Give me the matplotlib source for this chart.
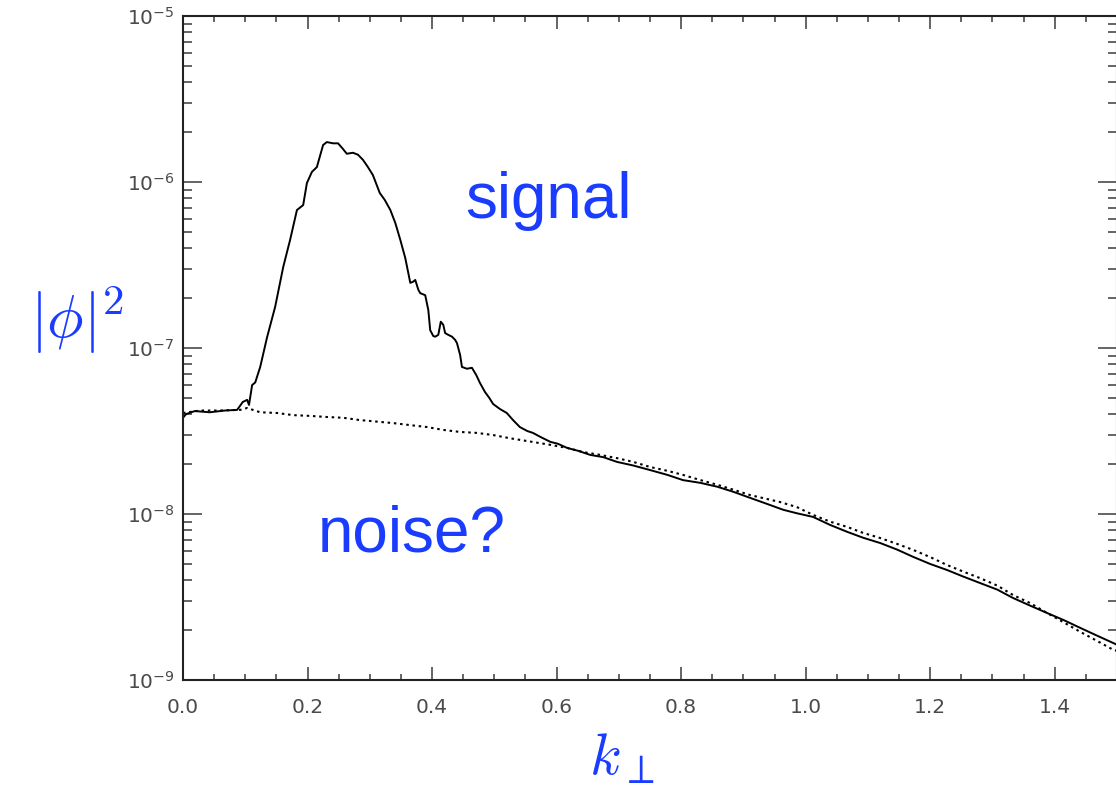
import math
import matplotlib
matplotlib.use("Agg")
import matplotlib.pyplot as plt
from matplotlib.ticker import FixedLocator, MultipleLocator, LogLocator, FuncFormatter, NullFormatter

# values
k_signal = [0.000, 0.005, 0.019, 0.043, 0.067, 0.087, 0.096, 0.103, 0.106, 0.111,
            0.116, 0.124, 0.135, 0.148, 0.161, 0.172, 0.183, 0.193, 0.199, 0.207,
            0.215, 0.225, 0.231, 0.241, 0.249, 0.257, 0.263, 0.273, 0.281, 0.289,
            0.297, 0.305, 0.316, 0.324, 0.333, 0.341, 0.349, 0.357, 0.365, 0.369,
            0.373, 0.378, 0.381, 0.389, 0.394, 0.397, 0.402, 0.405, 0.410, 0.414,
            0.418, 0.421, 0.426, 0.432, 0.437, 0.440, 0.445, 0.448, 0.456, 0.464,
            0.471, 0.477, 0.485, 0.492, 0.498, 0.509, 0.520, 0.530, 0.541, 0.553,
            0.562, 0.575, 0.590, 0.602, 0.617, 0.635, 0.654, 0.675, 0.697, 0.723,
            0.750, 0.778, 0.803, 0.831, 0.858, 0.884, 0.911, 0.938, 0.964, 0.986,
            1.012, 1.039, 1.067, 1.092, 1.120, 1.147, 1.173, 1.200, 1.227, 1.253,
            1.280, 1.308, 1.333, 1.361, 1.388, 1.414, 1.441, 1.468, 1.494, 1.505]
phi_signal = [3.8e-8, 4.0e-8, 4.17e-8, 4.1e-8, 4.2e-8, 4.24e-8, 4.73e-8, 4.87e-8, 4.54e-8, 5.98e-8,
              6.2e-8, 7.69e-8, 1.16e-7, 1.77e-7, 3.08e-7, 4.48e-7, 6.78e-7, 7.26e-7, 9.86e-7, 1.15e-6,
              1.23e-6, 1.67e-6, 1.74e-6, 1.71e-6, 1.71e-6, 1.58e-6, 1.48e-6, 1.50e-6, 1.46e-6, 1.36e-6,
              1.23e-6, 1.10e-6, 8.59e-7, 7.80e-7, 6.78e-7, 5.66e-7, 4.48e-7, 3.48e-7, 2.47e-7, 2.5e-7,
              2.57e-7, 2.24e-7, 2.14e-7, 2.08e-7, 1.69e-7, 1.28e-7, 1.18e-7, 1.17e-7, 1.2e-7, 1.44e-7,
              1.38e-7, 1.23e-7, 1.20e-7, 1.17e-7, 1.12e-7, 1.07e-7, 9.1e-8, 7.69e-8, 7.5e-8, 7.6e-8,
              6.87e-8, 6.15e-8, 5.43e-8, 5.0e-8, 4.60e-8, 4.29e-8, 4.06e-8, 3.68e-8, 3.34e-8, 3.16e-8,
              3.08e-8, 2.9e-8, 2.72e-8, 2.65e-8, 2.50e-8, 2.4e-8, 2.27e-8, 2.2e-8, 2.06e-8, 1.96e-8,
              1.84e-8, 1.72e-8, 1.60e-8, 1.54e-8, 1.46e-8, 1.36e-8, 1.25e-8, 1.15e-8, 1.06e-8, 1.01e-8,
              9.6e-9, 8.6e-9, 7.8e-9, 7.2e-9, 6.68e-9, 6.1e-9, 5.51e-9, 5.0e-9, 4.60e-9, 4.2e-9,
              3.84e-9, 3.5e-9, 3.12e-9, 2.8e-9, 2.53e-9, 2.3e-9, 2.06e-9, 1.85e-9, 1.67e-9, 1.6e-9]

k_noise = [0.000, 0.027, 0.059, 0.092, 0.103, 0.124, 0.151, 0.177, 0.204, 0.231,
           0.257, 0.284, 0.312, 0.337, 0.365, 0.392, 0.418, 0.445, 0.472, 0.498,
           0.525, 0.553, 0.590, 0.617, 0.643, 0.670, 0.697, 0.723, 0.750, 0.778,
           0.803, 0.831, 0.858, 0.884, 0.911, 0.959, 0.986, 1.012, 1.039, 1.067,
           1.092, 1.120, 1.147, 1.173, 1.200, 1.227, 1.253, 1.280, 1.308, 1.333,
           1.361, 1.388, 1.414, 1.441, 1.468, 1.494, 1.505]
phi_noise = [4.06e-8, 4.2e-8, 4.2e-8, 4.24e-8, 4.35e-8, 4.1e-8, 4.06e-8, 3.94e-8, 3.9e-8, 3.84e-8,
             3.8e-8, 3.68e-8, 3.6e-8, 3.53e-8, 3.43e-8, 3.34e-8, 3.21e-8, 3.12e-8, 3.08e-8, 2.99e-8,
             2.86e-8, 2.75e-8, 2.61e-8, 2.50e-8, 2.36e-8, 2.27e-8, 2.17e-8, 2.06e-8, 1.92e-8, 1.82e-8,
             1.72e-8, 1.60e-8, 1.50e-8, 1.40e-8, 1.30e-8, 1.18e-8, 1.10e-8, 9.87e-9, 9.0e-9, 8.35e-9,
             7.7e-9, 7.16e-9, 6.6e-9, 6.07e-9, 5.5e-9, 4.93e-9, 4.5e-9, 4.11e-9, 3.7e-9, 3.25e-9,
             2.9e-9, 2.53e-9, 2.23e-9, 1.95e-9, 1.72e-9, 1.52e-9, 1.48e-9]

x_ticks = [0.0, 0.2, 0.4, 0.6, 0.8, 1.0, 1.2, 1.4]
blue = "#1a3cff"
grey = "#4a4a4a"

fig = plt.figure(figsize=(11.16, 7.91), dpi=100)
ax = fig.add_axes([183 / 1116, 1 - 680 / 791, 934 / 1116, 664 / 791])

ax.plot(k_signal, phi_signal, color="black", lw=1.4)
ax.plot(k_noise, phi_noise, color="black", lw=1.5, linestyle=(0, (1.2, 1.8)))

ax.set_yscale("log")
ax.set_xlim(0, 1.5)
ax.set_ylim(1e-9, 1e-5)

ax.xaxis.set_major_locator(FixedLocator(x_ticks))
ax.xaxis.set_minor_locator(MultipleLocator(0.05))
ax.set_xticklabels([f"{v:.1f}" for v in x_ticks])
ax.yaxis.set_major_locator(LogLocator(base=10))
ax.yaxis.set_minor_locator(LogLocator(base=10, subs=range(2, 10)))
ax.yaxis.set_minor_formatter(NullFormatter())
ax.yaxis.set_major_formatter(FuncFormatter(lambda v, p: f"10$^{{{int(round(math.log10(v)))}}}$"))

ax.tick_params(which="both", direction="in", top=True, right=True, colors=grey, labelcolor=grey,
               labelsize=14.5, width=1.2)
ax.tick_params(axis="x", which="major", length=9.5, pad=13)
ax.tick_params(axis="x", which="minor", length=4.5)
ax.tick_params(axis="y", which="major", length=13.5, pad=6)
ax.tick_params(axis="y", which="minor", length=6.5)
for s in ax.spines.values():
    s.set_linewidth(1.5)
    s.set_color("#222222")

# axis labels and annotations
fig.text(77 / 1116, 1 - 320 / 791, r"$|\phi|^2$", color=blue, fontsize=44,
         ha="center", va="center", math_fontfamily="cm")
fig.text(622 / 1116, 1 - 758 / 791, r"$k_\perp$", color=blue, fontsize=42,
         ha="center", va="center", math_fontfamily="cm")
fig.text(465 / 1116, 1 - 218 / 791, "signal", color=blue, fontsize=46, va="baseline",
         family="Liberation Sans")
fig.text(318 / 1116, 1 - 551 / 791, "noise?", color=blue, fontsize=46, va="baseline",
         family="Liberation Sans")

fig.savefig("out.png", dpi=100)
